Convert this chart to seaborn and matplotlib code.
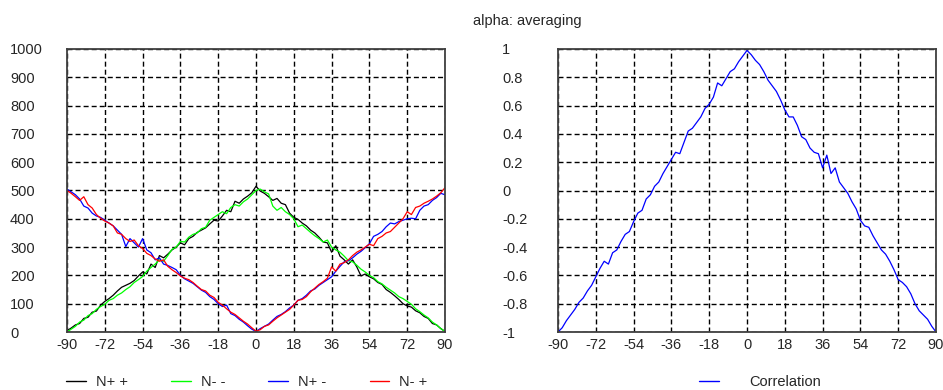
import numpy as np
import pandas as pd
import matplotlib
matplotlib.use("Agg")
import matplotlib.pyplot as plt
import seaborn as sns

# angle grid (degrees), sampled every 2 degrees
angle = np.arange(-90, 91, 2)

n_pp = [5, 14, 25, 30, 48, 52, 70, 74, 95, 108, 118, 130, 145, 158, 165, 172, 182, 198, 212, 205,
        240, 228, 270, 262, 275, 290, 300, 315, 308, 330, 338, 352, 360, 368, 382, 395, 392, 410, 430, 425,
        462, 455, 470, 480, 492, 515, 498, 490, 478, 465, 472, 455, 450, 420, 405, 398, 385, 375, 360, 350,
        335, 318, 315, 282, 305, 268, 255, 240, 255, 230, 198, 205, 195, 188, 175, 168, 150, 140, 128, 115,
        100, 92, 88, 75, 68, 55, 48, 30, 25, 12, 2]
n_mm = [0, 10, 20, 35, 42, 58, 65, 80, 90, 98, 112, 118, 130, 138, 150, 160, 175, 185, 196, 215,
        228, 240, 255, 250, 270, 292, 300, 320, 318, 335, 345, 350, 365, 370, 395, 405, 415, 425, 418, 440,
        450, 445, 460, 470, 485, 500, 505, 495, 488, 445, 430, 440, 425, 415, 400, 372, 378, 365, 352, 340,
        330, 318, 325, 300, 290, 282, 268, 252, 248, 236, 222, 212, 200, 192, 178, 170, 158, 148, 138, 125,
        118, 108, 98, 82, 72, 60, 50, 35, 25, 12, 2]
n_pm = [505, 495, 485, 470, 445, 438, 420, 410, 405, 395, 385, 375, 360, 345, 302, 330, 315, 300, 330, 290,
        280, 255, 262, 240, 235, 228, 220, 200, 188, 180, 172, 160, 148, 140, 125, 115, 100, 90, 95, 65,
        58, 45, 35, 22, 10, 2, 12, 20, 28, 42, 55, 62, 72, 85, 95, 112, 118, 130, 145, 152,
        165, 175, 185, 195, 215, 232, 248, 252, 262, 275, 285, 298, 312, 338, 345, 355, 372, 385, 382, 390,
        395, 400, 402, 400, 430, 445, 450, 465, 475, 490, 485]
n_mp = [500, 490, 478, 465, 478, 450, 438, 415, 402, 392, 385, 375, 350, 345, 330, 320, 325, 305, 295, 278,
        270, 258, 250, 255, 232, 220, 210, 198, 190, 185, 175, 162, 150, 145, 130, 122, 105, 95, 82, 70,
        62, 50, 38, 28, 15, 3, 8, 20, 25, 38, 50, 60, 70, 80, 95, 112, 115, 125, 142, 155,
        168, 178, 190, 230, 215, 240, 245, 255, 270, 282, 290, 300, 310, 305, 330, 338, 350, 355, 370, 385,
        400, 425, 415, 440, 445, 455, 462, 470, 480, 492, 510]
correlation = [-1.00, -0.97, -0.92, -0.88, -0.84, -0.79, -0.76, -0.71, -0.67, -0.61,
               -0.55, -0.50, -0.52, -0.44, -0.42, -0.36, -0.31, -0.29, -0.22, -0.16,
               -0.14, -0.06, -0.03, 0.03, 0.06, 0.12, 0.17, 0.22, 0.27, 0.26,
               0.34, 0.42, 0.44, 0.48, 0.52, 0.58, 0.61, 0.66, 0.76, 0.74,
               0.79, 0.84, 0.86, 0.91, 0.95, 0.99, 0.96, 0.92, 0.89, 0.84,
               0.78, 0.74, 0.70, 0.64, 0.57, 0.52, 0.52, 0.46, 0.38, 0.36,
               0.30, 0.27, 0.26, 0.16, 0.25, 0.12, 0.16, 0.06, 0.02, -0.02,
               -0.08, -0.13, -0.21, -0.25, -0.26, -0.32, -0.37, -0.42, -0.45, -0.50,
               -0.56, -0.63, -0.65, -0.68, -0.73, -0.80, -0.85, -0.88, -0.91, -0.96, -1.00]

series_names = ["N+ +", "N- -", "N+ -", "N- +"]
series_colors = {"N+ +": "#000000", "N- -": "#00ff00", "N+ -": "#0000ff", "N- +": "#ff0000"}
x_ticks = list(range(-90, 91, 18))
left_yticks = list(range(0, 1001, 100))
right_yticks = [-1, -0.8, -0.6, -0.4, -0.2, 0, 0.2, 0.4, 0.6, 0.8, 1]
right_ylabels = ["-1", "-0.8", "-0.6", "-0.4", "-0.2", "0", "0.2", "0.4", "0.6", "0.8", "1"]

counts = pd.DataFrame({"angle": np.tile(angle, 4),
                       "count": n_pp + n_mm + n_pm + n_mp,
                       "series": np.repeat(series_names, len(angle))})
corr = pd.DataFrame({"angle": angle, "corr": correlation})

sns.set_style("white")
plt.rcParams["font.family"] = ["Liberation Sans", "DejaVu Sans"]
plt.rcParams["font.size"] = 10.5

W, H = 943, 390
fig = plt.figure(figsize=(W / 100, H / 100), dpi=100)
ax1 = fig.add_axes([67 / W, 1 - 332 / H, 378 / W, 283 / H])
ax2 = fig.add_axes([558 / W, 1 - 332 / H, 378 / W, 283 / H])

sns.lineplot(data=counts, x="angle", y="count", hue="series", hue_order=series_names,
             palette=series_colors, linewidth=0.9, ax=ax1, legend=False)
sns.lineplot(data=corr, x="angle", y="corr", color="#0000ff", linewidth=0.9, ax=ax2)

def style_axes(ax, yticks, ylabels, ylim, pad):
    ax.set_xlim(-90, 90)
    ax.set_ylim(*ylim)
    ax.set_xticks(x_ticks)
    ax.set_xticklabels([str(t) for t in x_ticks])
    ax.set_yticks(yticks)
    ax.set_yticklabels(ylabels)
    for lab in ax.get_yticklabels():
        lab.set_horizontalalignment("left")
    ax.tick_params(axis="x", length=0, pad=4, labelsize=10.5)
    ax.tick_params(axis="y", length=0, pad=pad, labelsize=10.5)
    ax.set_axisbelow(True)
    ax.grid(True, color="black", linestyle=(0, (3.6, 2.2)), linewidth=1)
    ax.set_xlabel("")
    ax.set_ylabel("")
    for sp in ax.spines.values():
        sp.set_visible(True)
        sp.set_color("#404040")
        sp.set_linewidth(1.3)

style_axes(ax1, left_yticks, [str(t) for t in left_yticks], (0, 1000), 41)
style_axes(ax2, right_yticks, right_ylabels, (-1, 1), 40.3)

fig.text(473 / W, 1 - 21 / H, "alpha: averaging", ha="left", va="center", fontsize=10.5)

handles = [plt.Line2D([], [], color=series_colors[s], linewidth=1) for s in series_names]
fig.legend(handles, series_names, loc="center left", bbox_to_anchor=(66 / W, 1 - 382 / H),
           ncol=4, frameon=False, fontsize=10.5, handlelength=1.35, handletextpad=0.7,
           columnspacing=2.95, borderaxespad=0, borderpad=0)
fig.legend([plt.Line2D([], [], color="#0000ff", linewidth=1)], ["Correlation"], loc="center left",
           bbox_to_anchor=(699 / W, 1 - 382 / H), frameon=False, fontsize=10.5,
           handlelength=1.35, handletextpad=2.1, borderaxespad=0, borderpad=0)

fig.savefig("out.png", dpi=100)
